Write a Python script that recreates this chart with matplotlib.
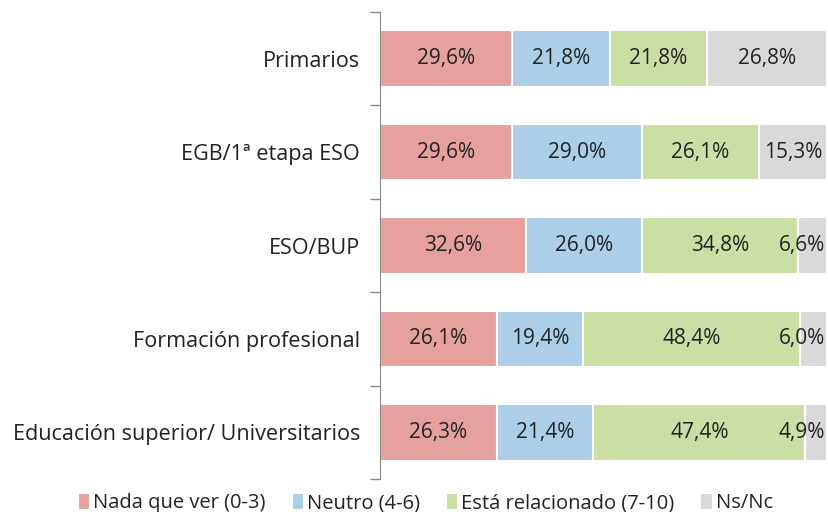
import numpy as np
import matplotlib.pyplot as plt

# datos
categorias = ['Primarios', 'EGB/1ª etapa ESO', 'ESO/BUP', 'Formación profesional',
              'Educación superior/ Universitarios']
nada = [29.6, 29.6, 32.6, 26.1, 26.3]
neutro = [21.8, 29.0, 26.0, 19.4, 21.4]
relacionado = [21.8, 26.1, 34.8, 48.4, 47.4]
nsnc = [26.8, 15.3, 6.6, 6.0, 4.9]

series = ['Nada que ver (0-3)', 'Neutro (4-6)', 'Está relacionado (7-10)', 'Ns/Nc']
colores = ['#E6A19F', '#ABCFE6', '#CBDFA4', '#D9D9D9']

plt.rcParams['font.family'] = ['Open Sans', 'DejaVu Sans']

fig = plt.figure(figsize=(8.29, 5.12), dpi=100)
ax = fig.add_axes([0.458, 0.064, 0.54, 0.913])

y = np.arange(len(categorias))
valores = [nada, neutro, relacionado, nsnc]
izq = np.zeros(len(categorias))
for vals, nombre, col in zip(valores, series, colores):
    vals = np.array(vals)
    ax.barh(y, vals, left=izq, height=0.6, color=col, edgecolor='white',
            linewidth=1.5, label=nombre)
    for yi, l, v in zip(y, izq, vals):
        txt = f'{v:.1f}%'.replace('.', ',')
        cx = l + v / 2
        if cx + 6.5 > 100:
            ax.text(99.5, yi, txt, ha='right', va='center', fontsize=15, color='#222222')
        else:
            ax.text(cx, yi, txt, ha='center', va='center', fontsize=15, color='#222222')
    izq += vals

ax.set_xlim(0, 100)
ax.set_ylim(len(categorias) - 0.5, -0.5)
ax.set_xticks([])
ax.set_yticks(y)
ax.set_yticklabels(categorias, fontsize=15.6, color='#222222')
ax.set_yticks(np.arange(-0.5, len(categorias), 1), minor=True)
ax.tick_params(axis='y', which='major', length=0, pad=14)
ax.tick_params(axis='y', which='minor', length=7, color='#888888', width=1)
for s in ['top', 'right', 'bottom']:
    ax.spines[s].set_visible(False)
ax.spines['left'].set_color('#888888')

fig.legend(loc='lower center', ncol=4, bbox_to_anchor=(0.513, -0.038), frameon=False,
           fontsize=14.5, handlelength=0.6, handleheight=0.9, handletextpad=0.15,
           columnspacing=1.3, labelcolor='#222222')

fig.savefig('out.png', dpi=100)
